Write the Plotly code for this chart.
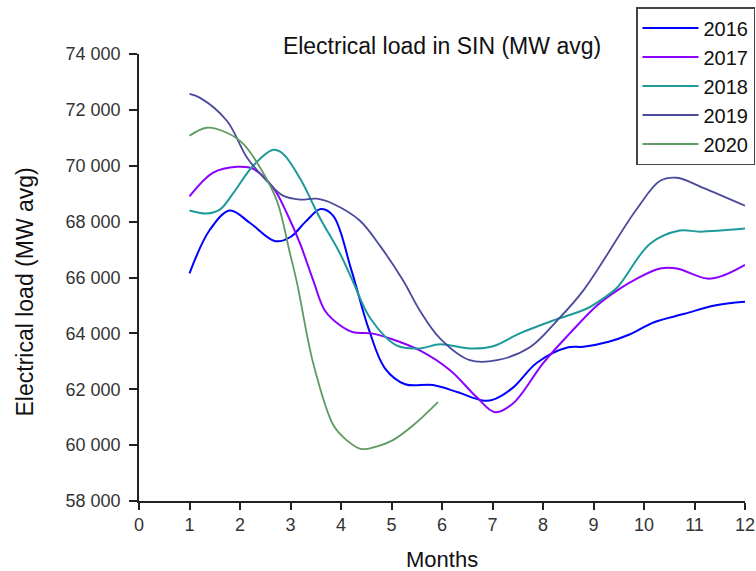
import plotly.graph_objects as go

months_2016 = [1.0, 1.4, 1.8, 2.2, 2.7, 3.0, 3.3, 3.6, 3.85, 4.2, 4.55, 4.87, 5.27, 5.82, 6.3, 6.8, 7.0, 7.4, 7.88, 8.5, 8.8, 9.3, 9.7, 10.2, 10.8, 11.4, 12.0]
load_2016 = [66150, 67700, 68400, 67950, 67300, 67450, 68000, 68450, 68200, 66300, 64150, 62750, 62180, 62150, 61900, 61600, 61620, 62050, 62950, 63500, 63520, 63700, 63950, 64400, 64700, 65000, 65130]

months_2017 = [1.0, 1.47, 1.94, 2.26, 2.66, 2.93, 3.19, 3.45, 3.68, 3.98, 4.24, 4.6, 5.0, 5.56, 6.16, 6.69, 7.05, 7.41, 8.0, 8.53, 9.07, 9.47, 9.86, 10.32, 10.65, 11.25, 11.57, 12.0]
load_2017 = [68900, 69750, 69960, 69890, 69210, 68290, 67210, 65900, 64820, 64290, 64040, 64000, 63800, 63390, 62680, 61710, 61180, 61500, 62930, 64000, 65000, 65540, 65960, 66320, 66320, 65960, 66070, 66450]

months_2018 = [1.0, 1.34, 1.6, 1.86, 2.26, 2.66, 2.85, 3.19, 3.58, 3.98, 4.25, 4.57, 5.1, 5.56, 5.96, 6.55, 7.01, 7.54, 8.2, 8.87, 9.19, 9.47, 10.12, 10.71, 11.11, 12.0]
load_2018 = [68400, 68290, 68430, 69000, 70000, 70570, 70430, 69540, 68140, 66860, 65800, 64570, 63570, 63460, 63610, 63460, 63540, 64000, 64460, 64890, 65250, 65640, 67210, 67680, 67640, 67750]

months_2019 = [1.0, 1.21, 1.74, 2.14, 2.53, 2.85, 3.19, 3.52, 3.84, 4.37, 4.77, 5.23, 5.56, 5.96, 6.55, 7.09, 7.74, 8.28, 8.8, 9.86, 10.32, 10.65, 11.17, 12.0]
load_2019 = [72570, 72430, 71610, 70290, 69460, 68930, 68790, 68820, 68640, 68040, 67140, 65890, 64820, 63820, 63040, 63040, 63500, 64460, 65540, 68460, 69460, 69570, 69210, 68570]

months_2020 = [1.0, 1.34, 1.74, 2.06, 2.4, 2.73, 2.99, 3.13, 3.45, 3.85, 4.11, 4.4, 4.7, 5.03, 5.43, 5.92]
load_2020 = [71070, 71360, 71180, 70790, 69930, 68750, 66860, 65800, 62930, 60710, 60180, 59860, 59950, 60180, 60710, 61540]

series = [
    ("2016", months_2016, load_2016, "#0000FF", 2),
    ("2017", months_2017, load_2017, "#8B00FF", 2),
    ("2018", months_2018, load_2018, "#1F9A9A", 2),
    ("2019", months_2019, load_2019, "#4A4A9C", 1.8),
    ("2020", months_2020, load_2020, "#5E9A62", 1.8),
]

x_ticks = list(range(0, 13))
y_ticks = list(range(58000, 74001, 2000))

fig = go.Figure()
for name, xs, ys, color, w in series:
    fig.add_trace(go.Scatter(
        x=xs, y=ys, name=name, mode="lines",
        line=dict(color=color, width=w, shape="spline", smoothing=1.0),
    ))

font_family = "Arial, Liberation Sans, sans-serif"
fig.update_layout(
    width=756, height=571,
    margin=dict(l=139, r=11, t=54, b=70, autoexpand=False),
    paper_bgcolor="white", plot_bgcolor="white",
    separators=". ",
    font=dict(family=font_family, color="#222"),
    title=dict(text="Electrical load in SIN (MW avg)", x=442 / 756, xanchor="center",
               y=1 - 46 / 571, yanchor="middle", font=dict(size=23, color="#111")),
    showlegend=True,
    legend=dict(
        xref="container", yref="container",
        x=636 / 756, xanchor="left", y=1 - 7 / 571, yanchor="top",
        bordercolor="#444", borderwidth=1.5, bgcolor="white",
        font=dict(size=20, color="#111"), tracegroupgap=0, itemwidth=56,
    ),
    xaxis=dict(
        range=[0, 12], tickvals=x_ticks, ticktext=[str(t) for t in x_ticks],
        showgrid=False, zeroline=False, showline=True, linecolor="#222", linewidth=1.5,
        ticks="outside", ticklen=7, tickcolor="#222", tickwidth=1.5,
        tickfont=dict(size=18, color="#333"),
    ),
    yaxis=dict(
        range=[58000, 74000], tickvals=y_ticks,
        showgrid=False, zeroline=False, showline=True, linecolor="#222", linewidth=1.5,
        ticks="outside", ticklen=8, tickcolor="#222", tickwidth=1.5,
        tickformat=",d", ticklabelstandoff=5,
        tickfont=dict(size=18, color="#333"),
    ),
    annotations=[
        dict(text="Months", xref="paper", yref="paper", x=0.5, y=0,
             xanchor="center", yanchor="middle", yshift=-58, showarrow=False,
             font=dict(size=22, color="#111")),
        dict(text="Electrical load (MW avg)", xref="paper", yref="paper", x=0, y=0.5,
             xanchor="center", yanchor="middle", xshift=-115, yshift=-15, textangle=-90,
             showarrow=False, font=dict(size=23, color="#111")),
    ],
)

fig.write_html("out.html")
